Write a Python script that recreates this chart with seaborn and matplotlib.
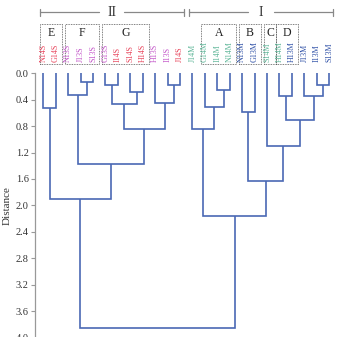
import numpy as np
import matplotlib
matplotlib.use("Agg")
import matplotlib.pyplot as plt
import matplotlib.transforms as mtransforms
from matplotlib.patches import Rectangle
import seaborn as sns

# leaf order of the dendrogram (left to right)
leaves = ['N14S', 'G14S', 'N13S', 'J13S', 'S13S', 'G13S', 'I14S', 'S14S',
          'H14S', 'H13S', 'I13S', 'J14S', 'J14M', 'G14M', 'I14M', 'N14M',
          'N13M', 'G13M', 'S14M', 'H14M', 'H13M', 'J13M', 'I13M', 'S13M']
# leaf groups -> label colour
leaf_group = ['14S', '14S', '13S', '13S', '13S', '13S', '14S', '14S',
              '14S', '13S', '13S', '14S', '14M', '14M', '14M', '14M',
              '13M', '13M', '14M', '14M', '13M', '13M', '13M', '13M']
group_colors = {'14S': '#e8435a', '13S': '#c253c8', '14M': '#5cb597', '13M': '#2d4fa6'}

# merges, scipy style: ids < 24 are leaves, id 24+k is the k-th merge
merge_left = [3, 10, 5, 22, 14, 7, 2, 19, 21, 9, 26, 13, 0, 16, 31, 34, 12, 18, 30, 37, 36, 40, 44]
merge_right = [4, 11, 6, 23, 15, 8, 24, 20, 27, 25, 29, 28, 1, 17, 32, 33, 35, 38, 39, 41, 42, 43, 45]
merge_height = [0.13, 0.18, 0.18, 0.18, 0.25, 0.28, 0.33, 0.345, 0.345, 0.455, 0.47,
                0.505, 0.53, 0.58, 0.71, 0.845, 0.85, 1.10, 1.38, 1.63, 1.91, 2.16, 3.85]

# boxed sub-clusters: letter, first leaf, last leaf
box_letters = ['E', 'F', 'G', 'A', 'B', 'C', 'D']
box_first = [0, 2, 5, 13, 16, 18, 19]
box_last = [1, 4, 8, 15, 17, 18, 20]

# top brackets: numeral, first leaf, last leaf
bracket_names = ['II', 'I']
bracket_first = [0, 12]
bracket_last = [11, 23]

yticks = np.arange(0, 4.01, 0.4)

sns.set_theme(style="ticks")
plt.rcParams['font.family'] = ['Liberation Serif', 'DejaVu Serif']

fig = plt.figure(figsize=(3.37, 3.37), dpi=100)
ax = fig.add_axes([0.104, -0.0015, 0.896, 0.784])

line_color = '#4a68b4'
n = len(leaves)
xpos = {i: float(i) for i in range(n)}
hpos = {i: 0.0 for i in range(n)}
for k, (l, r, h) in enumerate(zip(merge_left, merge_right, merge_height)):
    xl, xr = xpos[l], xpos[r]
    ax.plot([xl, xl, xr, xr], [hpos[l], h, h, hpos[r]], color=line_color, lw=1.2,
            solid_joinstyle='miter', solid_capstyle='butt')
    xpos[n + k] = (xl + xr) / 2
    hpos[n + k] = h

ax.set_xlim(-0.668, 23.63)
ax.set_ylim(4.0, 0.0)
ax.set_yticks(yticks)
ax.set_yticklabels([f'{v:.1f}' for v in yticks], fontsize=7.5, color='#333333')
ax.set_xticks([])
ax.set_ylabel('Distance', fontsize=8, color='#333333', labelpad=3)
for s in ['top', 'right', 'bottom']:
    ax.spines[s].set_visible(False)
ax.spines['left'].set_color('#999999')
ax.spines['left'].set_linewidth(0.9)
ax.tick_params(axis='y', length=3, width=0.8, color='#999999', pad=1.5)

# blended transform: x in data, y in figure pixels from the top
H = 337.0
def fy(py):
    return 1 - py / H
trans = mtransforms.blended_transform_factory(ax.transData, fig.transFigure)

for i, (name, g) in enumerate(zip(leaves, leaf_group)):
    ax.text(i, fy(61.5), name, rotation=90, ha='center', va='bottom', fontsize=5.8,
            color=group_colors[g], transform=trans)

for letter, a, b in zip(box_letters, box_first, box_last):
    x0 = a - 0.28
    x1 = b + 0.5 if letter != 'C' else b + 0.75
    if letter == 'D':
        x0 = a - 0.25
    ax.add_patch(Rectangle((x0, fy(63.5)), x1 - x0, fy(23.5) - fy(63.5), transform=trans,
                           fill=False, ls=(0, (1, 1)), lw=0.6, ec='#555555', clip_on=False))
    ax.text((x0 + x1) / 2, fy(33), letter, ha='center', va='center', fontsize=8.5,
            color='#222222', transform=trans)

for name, a, b in zip(bracket_names, bracket_first, bracket_last):
    x0, x1 = a - 0.27, b + 0.3
    xc = (x0 + x1) / 2
    gap = 1.0 if name == 'II' else 1.05
    ax.plot([x0, xc - gap], [fy(12.3), fy(12.3)], color='#888888', lw=0.9, transform=trans, clip_on=False)
    ax.plot([xc + gap, x1], [fy(12.3), fy(12.3)], color='#888888', lw=0.9, transform=trans, clip_on=False)
    for xe in (x0, x1):
        ax.plot([xe, xe], [fy(8.5), fy(16)], color='#888888', lw=0.9, transform=trans, clip_on=False)
    ax.text(xc, fy(12.3), name, ha='center', va='center', fontsize=10, color='#333333', transform=trans)

fig.savefig('out.png', dpi=100)
